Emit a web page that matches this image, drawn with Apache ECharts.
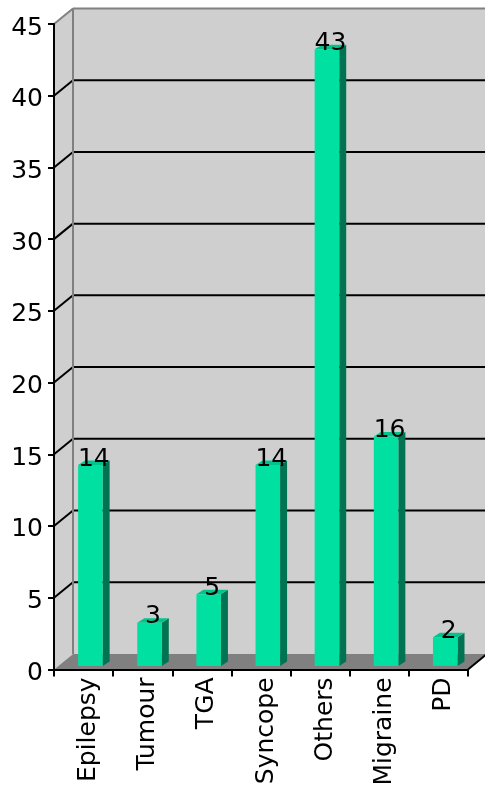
<!DOCTYPE html>
<html>
<head>
<meta charset="utf-8">
<style>
  html, body { margin: 0; padding: 0; background: #ffffff; }
  #chart { width: 485px; height: 794px; }
</style>
<script src="https://cdn.jsdelivr.net/npm/echarts@6/dist/echarts.min.js"></script>
</head>
<body>
<div id="chart"></div>
<script>
// Diagnosis groups and patient counts
const categories = ['Epilepsy', 'Tumour', 'TGA', 'Syncope', 'Others', 'Migraine', 'PD'];
const counts = [14, 3, 5, 14, 43, 16, 2];

// Value axis range and step
const yMin = 0;
const yMax = 45;
const yStep = 5;
const yTicks = [0, 5, 10, 15, 20, 25, 30, 35, 40, 45];

// Pseudo-3D projection: depth of the wall box and of each column
const DX = 19, DY = -15.5;
const BAR_RATIO = 0.415;          // front face width as share of the category band
const BAR_SHIFT_X = 6.8, BAR_SHIFT_Y = -3.5;  // front face sits a little inside the box
const BD_X = 7, BD_Y = -4.5;       // column depth

const FONT = 'DejaVu Sans';
const FONT_SIZE = 25;
const WALL = '#cfcfcf', FLOOR = '#808080', EDGE = '#808080';
const FRONT = '#00e0a0', TOP = '#00c48c', SIDE = '#007352';

const chart = echarts.init(document.getElementById('chart'), null, { renderer: 'canvas' });

// Back wall, side wall, floor and the gridlines drawn in perspective
function renderWalls(params, api) {
  const cs = params.coordSys;
  const gx = cs.x, gy = cs.y, gw = cs.width, gb = cs.y + cs.height;
  const kids = [];
  kids.push({ type: 'polygon', shape: { points: [[gx, gy], [gx + DX, gy + DY], [gx + DX, gb + DY], [gx, gb]] },
    style: { fill: WALL } });
  kids.push({ type: 'rect', shape: { x: gx + DX, y: gy + DY, width: gw + 2, height: gb - gy },
    style: { fill: WALL } });
  kids.push({ type: 'polygon', shape: { points: [[gx, gb], [gx + gw, gb], [gx + gw + DX, gb + DY], [gx + DX, gb + DY]] },
    style: { fill: FLOOR } });
  yTicks.forEach(function (v) {
    if (v === yMin) return;
    const y = api.coord([0, v])[1];
    const col = v === yMax ? EDGE : '#000000';
    kids.push({ type: 'line', shape: { x1: gx + DX, y1: y + DY, x2: gx + gw + DX + 2, y2: y + DY },
      style: { stroke: col, lineWidth: 2 } });
    kids.push({ type: 'line', shape: { x1: gx, y1: y, x2: gx + DX, y2: y + DY },
      style: { stroke: col, lineWidth: 2 } });
  });
  kids.push({ type: 'line', shape: { x1: gx + DX, y1: gy + DY, x2: gx + DX, y2: gb + DY },
    style: { stroke: EDGE, lineWidth: 2 } });
  kids.push({ type: 'line', shape: { x1: gx + gw, y1: gb, x2: gx + gw + DX, y2: gb + DY },
    style: { stroke: '#000000', lineWidth: 2 } });
  return { type: 'group', children: kids };
}

// Each column: front face, top cap, dark right side and its value
function renderBar(params, api) {
  const idx = api.value(0);
  const val = api.value(1);
  const top = api.coord([idx, val]);
  const base = api.coord([idx, 0]);
  const band = api.size([1, 0])[0];
  const w = band * BAR_RATIO;
  const x0 = top[0] + BAR_SHIFT_X - w / 2;
  const x1 = x0 + w;
  const yT = top[1] + BAR_SHIFT_Y;
  const yB = base[1] + BAR_SHIFT_Y;
  return {
    type: 'group',
    children: [
      { type: 'polygon', shape: { points: [[x1, yT], [x1 + BD_X, yT + BD_Y], [x1 + BD_X, yB + BD_Y], [x1, yB]] },
        style: { fill: SIDE } },
      { type: 'polygon', shape: { points: [[x0, yT], [x1, yT], [x1 + BD_X, yT + BD_Y], [x0 + BD_X, yT + BD_Y]] },
        style: { fill: TOP } },
      { type: 'rect', shape: { x: x0, y: yT, width: w, height: yB - yT },
        style: { fill: FRONT } },
      { type: 'text', z2: 10,
        style: { text: String(val), x: x0 + (w + BD_X) / 2, y: yT - 6,
          align: 'center', verticalAlign: 'middle',
          fontFamily: FONT, fontSize: FONT_SIZE, fill: '#000000' } }
    ]
  };
}

const option = {
  backgroundColor: '#ffffff',
  animation: false,
  grid: { left: 54, right: 17, top: 24, bottom: 124.6, containLabel: false },
  xAxis: {
    type: 'category',
    data: categories,
    z: 10,
    boundaryGap: true,
    axisLine: { show: true, lineStyle: { color: '#000000', width: 2 } },
    axisTick: { show: true, length: 7, alignWithLabel: false, lineStyle: { color: '#000000', width: 2 } },
    axisLabel: {
      rotate: 90, margin: 8, interval: 0,
      fontFamily: FONT, fontSize: FONT_SIZE, color: '#000000',
      verticalAlign: 'top', lineHeight: 10
    },
    splitLine: { show: false }
  },
  yAxis: {
    type: 'value',
    min: yMin, max: yMax, interval: yStep,
    z: 10,
    axisLine: { show: true, lineStyle: { color: '#000000', width: 2 } },
    axisTick: { show: true, length: 6, lineStyle: { color: '#000000', width: 2 } },
    axisLabel: {
      margin: 11, fontFamily: FONT, fontSize: FONT_SIZE, color: '#000000',
      verticalAlign: 'top', lineHeight: 8
    },
    splitLine: { show: false }
  },
  series: [
    {
      type: 'custom',
      name: 'walls',
      z: 1,
      silent: true,
      renderItem: renderWalls,
      data: [[0, 0]]
    },
    {
      type: 'custom',
      name: 'counts',
      z: 3,
      renderItem: renderBar,
      encode: { x: 0, y: 1 },
      data: counts.map(function (v, i) { return [i, v]; })
    }
  ]
};

chart.setOption(option);
</script>
</body>
</html>
